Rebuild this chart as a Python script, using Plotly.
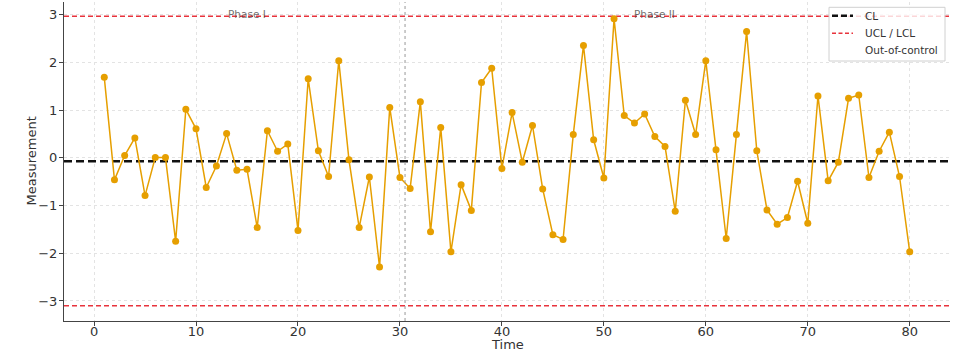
import plotly.graph_objects as go

time = list(range(1, 81))
measurement = [
    1.69, -0.46, 0.05, 0.42, -0.79, 0.01, 0.01, -1.75, 1.02, 0.61,
    -0.62, -0.17, 0.51, -0.26, -0.24, -1.46, 0.57, 0.14, 0.29, -1.52,
    1.66, 0.15, -0.39, 2.04, -0.04, -1.46, -0.40, -2.29, 1.06, -0.41,
    -0.64, 1.18, -1.55, 0.64, -1.97, -0.56, -1.10, 1.58, 1.88, -0.22,
    0.95, -0.09, 0.68, -0.65, -1.61, -1.71, 0.49, 2.36, 0.38, -0.42,
    2.92, 0.89, 0.73, 0.92, 0.45, 0.24, -1.12, 1.21, 0.49, 2.04,
    0.17, -1.69, 0.49, 2.65, 0.15, -1.09, -1.39, -1.25, -0.49, -1.37,
    1.30, -0.48, -0.09, 1.25, 1.32, -0.41, 0.14, 0.54, -0.39, -1.97,
]
CL = -0.07
UCL = 2.97
LCL = -3.10
phase_split = 30.5
phase_labels = ["Phase I", "Phase II"]
phase_label_x = [15, 55]
legend_labels = ["CL", "UCL / LCL", "Out-of-control"]
x_ticks = [0, 10, 20, 30, 40, 50, 60, 70, 80]
y_ticks = [-3, -2, -1, 0, 1, 2, 3]

X_RANGE = [-2.95, 83.95]
Y_RANGE = [-3.42, 3.27]

W, H = 959, 354
ML, MR, MT, MB = 64, 9, 2, 33
PW, PH = W - ML - MR, H - MT - MB


def px(xp):
    return (xp - ML) / PW


def py(yp):
    return (H - MB - yp) / PH


FONT = "DejaVu Sans"
ORANGE = "#E69F00"
RED = "#E8333C"
BLACK = "#111111"
CL_DASH = "8px,4px"
LIM_DASH = "5px,3px"

fig = go.Figure()

fig.add_trace(go.Scatter(
    x=X_RANGE, y=[CL, CL], mode="lines", name=legend_labels[0],
    line=dict(color=BLACK, width=2.5, dash=CL_DASH), showlegend=False,
))
fig.add_trace(go.Scatter(
    x=[X_RANGE[0], X_RANGE[1], None, X_RANGE[0], X_RANGE[1]],
    y=[UCL, UCL, None, LCL, LCL], mode="lines", name=legend_labels[1],
    line=dict(color=RED, width=1.6, dash=LIM_DASH), showlegend=False,
))
fig.add_trace(go.Scatter(
    x=time, y=measurement, mode="lines+markers",
    line=dict(color=ORANGE, width=1.5),
    marker=dict(color=ORANGE, size=7),
    showlegend=False, hoverinfo="skip",
))

fig.add_shape(type="line", x0=phase_split, x1=phase_split, y0=0, y1=1,
              xref="x", yref="paper",
              line=dict(color="#999999", width=1, dash="dot"))

for lbl, lx in zip(phase_labels, phase_label_x):
    fig.add_annotation(x=lx, y=UCL + 0.04, text=lbl, showarrow=False,
                       xanchor="center", yanchor="middle",
                       font=dict(family=FONT, size=10.5, color="rgba(60,60,60,0.75)"))

# axis titles
fig.add_annotation(x=px(31), y=0.5, xref="paper", yref="paper", text="Measurement",
                   textangle=-90, showarrow=False, xanchor="center", yanchor="middle",
                   font=dict(family=FONT, size=13, color="#333333"))
fig.add_annotation(x=0.5, y=py(344), xref="paper", yref="paper", text="Time",
                   showarrow=False, xanchor="center", yanchor="middle",
                   font=dict(family=FONT, size=13, color="#333333"))

# legend (drawn manually to match compact spacing)
fig.add_shape(type="rect", xref="paper", yref="paper",
              x0=px(829), x1=px(945), y0=py(61), y1=py(7.3),
              line=dict(color="#d0d0d0", width=1),
              fillcolor="rgba(255,255,255,0.8)", layer="above")
leg_rows = [15.7, 33.3, 50.0]
fig.add_shape(type="line", xref="paper", yref="paper",
              x0=px(832), x1=px(853), y0=py(leg_rows[0]), y1=py(leg_rows[0]),
              line=dict(color=BLACK, width=2.5, dash="6px,3px"), layer="above")
fig.add_shape(type="line", xref="paper", yref="paper",
              x0=px(832), x1=px(853), y0=py(leg_rows[1]), y1=py(leg_rows[1]),
              line=dict(color=RED, width=1.6, dash="4px,2.5px"), layer="above")
for lbl, ry in zip(legend_labels, leg_rows):
    fig.add_annotation(x=px(863), y=py(ry), xref="paper", yref="paper", text=lbl,
                       showarrow=False, xanchor="left", yanchor="middle",
                       font=dict(family=FONT, size=10.5, color="#333333"))

axis_common = dict(
    showline=True, linecolor="#444444", linewidth=1.2,
    ticks="outside", ticklen=4, tickcolor="#444444", tickwidth=1,
    showgrid=True, gridcolor="#e3e3e3", griddash="dot", gridwidth=1,
    zeroline=False, mirror=False,
    tickfont=dict(family=FONT, size=13, color="#333333"),
)

fig.update_xaxes(range=X_RANGE, tickvals=x_ticks, ticklabelstandoff=-6, **axis_common)
fig.update_yaxes(range=Y_RANGE, tickvals=y_ticks, ticklabelstandoff=-1, **axis_common)

fig.update_layout(
    width=W, height=H,
    margin=dict(l=ML, r=MR, t=MT, b=MB),
    paper_bgcolor="white", plot_bgcolor="white",
    font=dict(family=FONT),
    showlegend=False,
)

fig.write_html("out.html")
